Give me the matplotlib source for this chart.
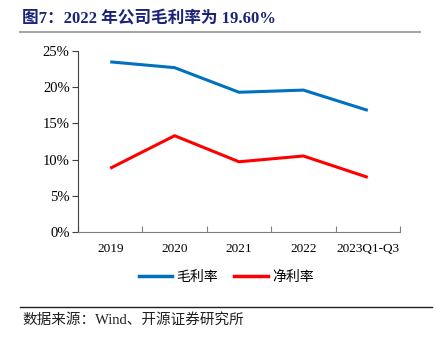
import matplotlib
matplotlib.use("Agg")
import matplotlib.pyplot as plt
from matplotlib.lines import Line2D

plt.rcParams['font.family'] = ['Liberation Serif', 'Noto Sans CJK SC']

categories = ["2019", "2020", "2021", "2022", "2023Q1-Q3"]
gross_margin = [23.5, 22.7, 19.3, 19.6, 16.8]
net_margin = [8.8, 13.3, 9.7, 10.5, 7.55]
y_ticks = [0, 5, 10, 15, 20, 25]
y_labels = ["0%", "5%", "10%", "15%", "20%", "25%"]

W, H = 437, 347
fig = plt.figure(figsize=(W/100, H/100), dpi=100)

# axes: left 78, right 400, top 51, bottom 232
ax = fig.add_axes([78/W, 1-232/H, (400-78)/W, (232-51)/H])
x = list(range(len(categories)))
ax.plot(x, gross_margin, color='#0070C0', lw=2.2, solid_capstyle='butt')
ax.plot(x, net_margin, color='#FF0000', lw=2.2, solid_capstyle='butt')
ax.set_xlim(-0.5, len(categories)-0.5)
ax.set_ylim(0, 25)
ax.set_yticks(y_ticks)
ax.set_yticklabels(y_labels, fontsize=10.5)
ax.set_xticks([i-0.5 for i in range(len(categories)+1)])
ax.set_xticklabels([])
ax.set_xticks(x, minor=True)
ax.set_xticklabels(categories, minor=True, fontsize=9.5)
ax.tick_params(axis='x', which='minor', length=0, pad=8)
ax.tick_params(axis='x', which='major', length=4, direction='in', color='#7f7f7f')
ax.tick_params(axis='y', length=4, direction='out', color='#404040', pad=2)
for s in ['top', 'right']:
    ax.spines[s].set_visible(False)
ax.spines['left'].set_color('#404040')
ax.spines['bottom'].set_color('#7f7f7f')

# legend
handles = [Line2D([], [], color='#0070C0', lw=2.5), Line2D([], [], color='#FF0000', lw=2.5)]
fig.legend(handles, ['毛利率', '净利率'], loc='center', bbox_to_anchor=(226/W, 1-277/H),
           ncol=2, frameon=False, handlelength=2.4, handletextpad=0.3,
           columnspacing=1.2, prop={'family': ['Noto Sans CJK SC'], 'size': 10})

# title
fig.text(22/W, 1-18/H, '图7：2022 年公司毛利率为 19.60%', fontsize=12, fontweight='bold',
         color='#1A2378', va='center', ha='left',
         family=['Liberation Serif', 'Noto Sans CJK SC'])
fig.add_artist(Line2D([20/W, 420/W], [1-32/H, 1-32/H], color='#A6A6A6', lw=1.5))

# source
fig.add_artist(Line2D([20/W, 432/W], [1-307/H, 1-307/H], color='#202020', lw=1))
fig.text(22/W, 1-320/H, '数据来源：Wind、开源证券研究所', fontsize=10.5, color='#202020',
         va='center', ha='left', family=['Liberation Serif', 'Noto Sans CJK SC'])

fig.savefig('out.png', dpi=100)
